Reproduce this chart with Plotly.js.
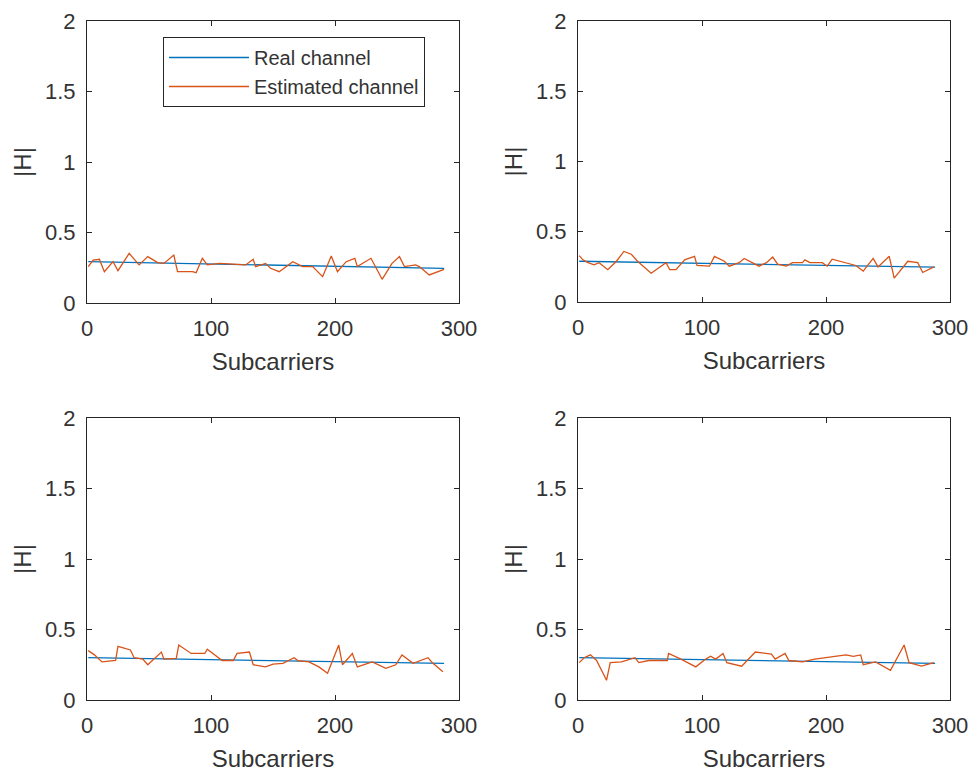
<!DOCTYPE html>
<html>
<head>
<meta charset="utf-8">
<script src="https://cdn.plot.ly/plotly-3.0.1.min.js"></script>
<style>html,body{margin:0;padding:0;background:#fff;}#chart{width:975px;height:774px;}</style>
</head>
<body>
<div id="chart"></div>
<script>
// ---- Data ----
const xTicks = [0, 100, 200, 300];
const yTicks = [0, 0.5, 1, 1.5, 2];
const xTitle = "Subcarriers";
const yTitle = "|H|";
const realName = "Real channel";
const estName = "Estimated channel";

// Subplot 1 (top-left)
const real1X = [1, 144, 288];
const real1Y = [0.293, 0.270, 0.246];
const est1X = [1, 5, 10, 14, 21, 25, 34, 42, 49, 57, 62, 70, 73, 85, 88, 93, 97, 107, 128, 134, 136, 144, 148, 155, 166, 174, 182, 190, 197, 202, 209, 216, 218, 229, 238, 246, 252, 256, 265, 268, 276, 288];
const est1Y = [0.258, 0.305, 0.310, 0.222, 0.293, 0.229, 0.352, 0.270, 0.329, 0.286, 0.281, 0.340, 0.222, 0.222, 0.215, 0.317, 0.270, 0.281, 0.270, 0.310, 0.258, 0.281, 0.246, 0.222, 0.293, 0.258, 0.258, 0.187, 0.333, 0.222, 0.293, 0.317, 0.258, 0.317, 0.168, 0.281, 0.329, 0.258, 0.270, 0.258, 0.199, 0.239];

// Subplot 2 (top-right)
const real2X = [1, 144, 288];
const real2Y = [0.290, 0.270, 0.248];
const est2X = [1, 4, 8, 13, 17, 24, 31, 37, 43, 48, 59, 63, 71, 74, 79, 86, 94, 96, 106, 110, 118, 122, 130, 134, 141, 146, 152, 157, 161, 168, 173, 181, 183, 187, 197, 201, 205, 213, 224, 230, 238, 242, 251, 255, 266, 274, 278, 287];
const est2Y = [0.33, 0.30, 0.28, 0.265, 0.28, 0.23, 0.29, 0.36, 0.34, 0.29, 0.205, 0.23, 0.28, 0.23, 0.23, 0.30, 0.325, 0.26, 0.255, 0.325, 0.29, 0.255, 0.28, 0.31, 0.28, 0.255, 0.28, 0.32, 0.27, 0.255, 0.28, 0.28, 0.30, 0.28, 0.28, 0.255, 0.305, 0.285, 0.26, 0.22, 0.31, 0.25, 0.325, 0.17, 0.29, 0.28, 0.21, 0.25];

// Subplot 3 (bottom-left)
const real3X = [1, 144, 288];
const real3Y = [0.300, 0.280, 0.260];
const est3X = [1, 6, 12, 23, 25, 35, 38, 45, 49, 56, 60, 62, 72, 74, 84, 95, 97, 109, 118, 121, 131, 134, 144, 150, 158, 167, 170, 179, 187, 194, 203, 206, 214, 218, 230, 241, 249, 254, 263, 275, 279, 287];
const est3Y = [0.35, 0.32, 0.27, 0.28, 0.38, 0.355, 0.30, 0.29, 0.25, 0.31, 0.34, 0.29, 0.295, 0.39, 0.33, 0.33, 0.36, 0.28, 0.28, 0.33, 0.34, 0.25, 0.235, 0.255, 0.26, 0.30, 0.28, 0.27, 0.235, 0.19, 0.39, 0.25, 0.33, 0.235, 0.27, 0.225, 0.25, 0.32, 0.26, 0.30, 0.26, 0.20];

// Subplot 4 (bottom-right)
const real4X = [1, 144, 288];
const real4Y = [0.300, 0.280, 0.260];
const est4X = [1, 5, 10, 15, 23, 26, 35, 46, 49, 57, 72, 73, 83, 95, 103, 107, 111, 117, 120, 132, 143, 156, 159, 167, 170, 181, 191, 216, 222, 228, 230, 240, 252, 263, 267, 277, 287];
const est4Y = [0.265, 0.30, 0.32, 0.28, 0.14, 0.265, 0.27, 0.30, 0.265, 0.28, 0.28, 0.33, 0.29, 0.235, 0.29, 0.31, 0.29, 0.33, 0.265, 0.24, 0.34, 0.325, 0.29, 0.33, 0.28, 0.27, 0.29, 0.32, 0.31, 0.32, 0.25, 0.27, 0.21, 0.39, 0.265, 0.24, 0.265];

// ---- Styling / layout ----
const blue = "#0072BD";
const orange = "#D95319";
const axCol = "#262626";
const W = 975, H = 774;
const fam = "Liberation Sans, Arial, sans-serif";
const tickFont = {family: fam, size: 22, color: "#333333"};
const labelFont = {family: fam, size: 24, color: "#333333"};

const panels = [
  {rx: real1X, ry: real1Y, ex: est1X, ey: est1Y, x: [87, 459], y: [21, 303]},
  {rx: real2X, ry: real2Y, ex: est2X, ey: est2Y, x: [578, 950], y: [21, 302]},
  {rx: real3X, ry: real3Y, ex: est3X, ey: est3Y, x: [87, 459], y: [418, 700]},
  {rx: real4X, ry: real4Y, ex: est4X, ey: est4Y, x: [578, 950], y: [418, 700]}
];

const traces = [];
const layout = {
  width: W, height: H,
  margin: {l: 0, r: 0, t: 0, b: 0},
  paper_bgcolor: "#fff", plot_bgcolor: "#fff",
  font: tickFont,
  showlegend: true,
  legend: {
    x: 163 / W, y: 1 - 37 / H, xanchor: "left", yanchor: "top",
    bgcolor: "#fff", bordercolor: axCol, borderwidth: 1,
    font: {family: fam, size: 20, color: "#333333"},
    itemwidth: 80, tracegroupgap: 0
  }
};

panels.forEach((p, i) => {
  const n = i + 1;
  const xa = n === 1 ? "x" : "x" + n;
  const ya = n === 1 ? "y" : "y" + n;
  traces.push({x: p.rx, y: p.ry, type: "scatter", mode: "lines", name: realName,
    line: {color: blue, width: 1.3}, xaxis: xa, yaxis: ya, showlegend: n === 1, hoverinfo: "skip"});
  traces.push({x: p.ex, y: p.ey, type: "scatter", mode: "lines", name: estName,
    line: {color: orange, width: 1.3}, xaxis: xa, yaxis: ya, showlegend: n === 1, hoverinfo: "skip"});
  const common = {
    showline: true, linecolor: axCol, linewidth: 1, mirror: "ticks",
    ticks: "inside", ticklen: 5, tickcolor: axCol, tickwidth: 1,
    showgrid: false, zeroline: false, tickfont: tickFont
  };
  layout["xaxis" + (n === 1 ? "" : n)] = Object.assign({}, common, {
    domain: [p.x[0] / W, p.x[1] / W], anchor: ya,
    range: [0, 300], tickvals: xTicks, ticktext: xTicks.map(String),
    ticklabelstandoff: 6,
    title: {text: xTitle, font: labelFont, standoff: 12}
  });
  layout["yaxis" + (n === 1 ? "" : n)] = Object.assign({}, common, {
    domain: [1 - p.y[1] / H, 1 - p.y[0] / H], anchor: xa,
    range: [0, 2], tickvals: yTicks, ticktext: yTicks.map(String),
    ticklabelstandoff: 6,
    title: {text: yTitle, font: labelFont, standoff: 6}
  });
});

Plotly.newPlot("chart", traces, layout, {displayModeBar: false, staticPlot: true});
</script>
</body>
</html>
